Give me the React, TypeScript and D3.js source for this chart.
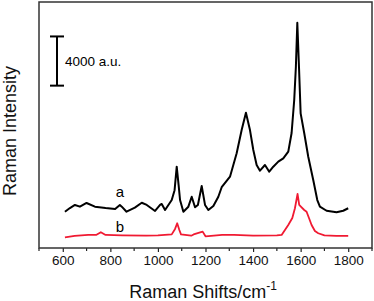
import React, { useRef, useEffect } from 'react';
import * as d3 from 'd3';

// Raman shift (cm-1) and intensity (a.u.)
const shiftA = [609, 630, 651, 672, 700, 735, 780, 820, 840, 848, 868, 903, 932, 953, 988, 1009, 1016, 1030, 1058, 1070, 1079, 1087, 1093, 1107, 1128, 1142, 1156, 1168, 1184, 1198, 1212, 1233, 1254, 1268, 1303, 1331, 1352, 1370, 1387, 1401, 1415, 1429, 1450, 1468, 1485, 1506, 1527, 1548, 1562, 1573, 1580, 1586, 1593, 1600, 1615, 1632, 1653, 1670, 1681, 1709, 1751, 1779, 1800];
const intensityA = [2950, 3250, 3500, 3360, 3660, 3360, 3250, 3170, 3500, 3360, 2950, 3280, 3680, 3500, 3010, 3500, 3580, 3090, 3900, 4700, 6610, 5120, 3900, 2950, 3360, 4170, 3310, 3500, 5040, 3500, 3090, 3420, 4170, 4940, 5800, 7700, 9590, 11000, 9590, 7970, 6750, 6290, 6750, 6200, 6610, 7020, 7290, 7830, 9350, 12030, 14740, 18320, 14740, 10950, 9350, 7420, 5530, 3900, 3360, 3030, 2900, 3030, 3230];

const shiftB = [609, 650, 707, 740, 760, 780, 850, 950, 1000, 1058, 1072, 1081, 1090, 1097, 1140, 1150, 1188, 1200, 1270, 1320, 1400, 1500, 1520, 1548, 1565, 1576, 1587, 1594, 1601, 1615, 1625, 1635, 1646, 1660, 1674, 1700, 1750, 1800];
const intensityB = [870, 980, 1060, 1060, 1280, 1060, 1020, 1000, 1020, 1110, 1550, 2010, 1460, 1110, 1000, 1100, 1330, 950, 1060, 1060, 1000, 1020, 1060, 1870, 2440, 3230, 4390, 3500, 3360, 3090, 2950, 2440, 1870, 1380, 1200, 1020, 980, 980];

const xTicks = [600, 800, 1000, 1200, 1400, 1600, 1800];
const xMinorTicks = [500, 700, 900, 1100, 1300, 1500, 1700, 1900];
const scaleBarValue = 4000;
const scaleBarTop = 17200;

const W = 374;
const H = 301;

const App = () => {
  const svgRef = useRef<SVGSVGElement>(null);

  useEffect(() => {
    const svg = d3.select(svgRef.current);
    svg.selectAll('*').remove();

    const left = 39, right = 372, top = 2, bottom = 248;
    const x = d3.scaleLinear().domain([500, 1900]).range([left, right]);
    const y = d3.scaleLinear().domain([0, 20000]).range([bottom, top]);

    const font = 'Arial, "Liberation Sans", sans-serif';

    // x axis ticks
    const axis = svg.append('g').attr('transform', `translate(0,${bottom})`);
    axis.call(d3.axisBottom(x).tickValues(xTicks).tickSize(4).tickSizeOuter(0).tickPadding(3).tickFormat(d3.format('d')))
      .call(g => g.select('.domain').remove());
    axis.selectAll('text')
      .attr('font-family', font)
      .attr('font-size', 13.5)
      .attr('fill', '#111');
    axis.selectAll('line').attr('stroke', '#222').attr('stroke-width', 1.2);
    axis.selectAll('.minor')
      .data(xMinorTicks)
      .enter()
      .append('line')
      .attr('x1', d => x(d))
      .attr('x2', d => x(d))
      .attr('y1', 0)
      .attr('y2', 3)
      .attr('stroke', '#222')
      .attr('stroke-width', 1.2);

    // frame
    svg.append('rect')
      .attr('x', left)
      .attr('y', top)
      .attr('width', right - left)
      .attr('height', bottom - top)
      .attr('fill', 'none')
      .attr('stroke', '#333')
      .attr('stroke-width', 1.5);

    const line = d3.line<[number, number]>()
      .x(d => x(d[0]))
      .y(d => y(d[1]));

    const dataA = shiftA.map((s, i) => [s, intensityA[i]] as [number, number]);
    const dataB = shiftB.map((s, i) => [s, intensityB[i]] as [number, number]);

    svg.append('path')
      .attr('d', line(dataB))
      .attr('fill', 'none')
      .attr('stroke', '#f01a32')
      .attr('stroke-width', 1.8)
      .attr('stroke-linejoin', 'round');

    svg.append('path')
      .attr('d', line(dataA))
      .attr('fill', 'none')
      .attr('stroke', '#000')
      .attr('stroke-width', 2)
      .attr('stroke-linejoin', 'round');

    // curve labels
    svg.append('text')
      .attr('x', x(840))
      .attr('y', y(3700) - 5)
      .attr('text-anchor', 'middle')
      .attr('font-family', font)
      .attr('font-size', 15)
      .text('a');
    svg.append('text')
      .attr('x', x(840))
      .attr('y', y(1000) - 4)
      .attr('text-anchor', 'middle')
      .attr('font-family', font)
      .attr('font-size', 15)
      .text('b');

    // scale bar
    const barX = 57;
    const y1 = y(scaleBarTop);
    const y2 = y(scaleBarTop - scaleBarValue);
    svg.append('line').attr('x1', barX).attr('x2', barX).attr('y1', y1).attr('y2', y2)
      .attr('stroke', '#000').attr('stroke-width', 2);
    [y1, y2].forEach(v => {
      svg.append('line').attr('x1', barX - 7).attr('x2', barX + 7).attr('y1', v).attr('y2', v)
        .attr('stroke', '#000').attr('stroke-width', 2);
    });
    svg.append('text')
      .attr('x', barX + 8)
      .attr('y', (y1 + y2) / 2 + 5)
      .attr('font-family', font)
      .attr('font-size', 13.5)
      .text(`${scaleBarValue} a.u.`);

    // axis titles
    svg.append('text')
      .attr('transform', `translate(16,${(top + bottom) / 2 + 6}) rotate(-90)`)
      .attr('text-anchor', 'middle')
      .attr('font-family', font)
      .attr('font-size', 18)
      .attr('fill', '#111')
      .text('Raman Intensity');

    const xt = svg.append('text')
      .attr('x', 203)
      .attr('y', 298)
      .attr('text-anchor', 'middle')
      .attr('font-family', font)
      .attr('font-size', 18)
      .attr('fill', '#111');
    xt.append('tspan').text('Raman Shifts/cm');
    xt.append('tspan').attr('font-size', 12).attr('dy', -8).text('-1');
  }, []);

  return (
    <svg
      ref={svgRef}
      width={W}
      height={H}
      viewBox={`0 0 ${W} ${H}`}
      style={{ position: 'absolute', left: 0, top: 0, background: '#fff' }}
    ></svg>
  );
};

export default App;
